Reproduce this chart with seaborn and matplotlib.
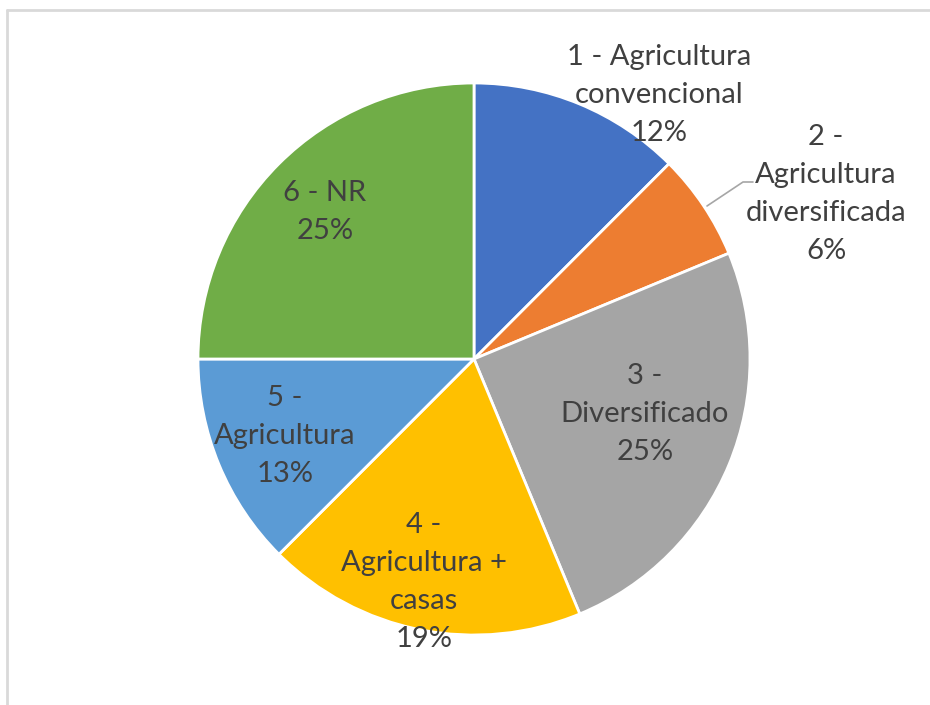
import seaborn as sns
import matplotlib.pyplot as plt

# data (shares in %)
categories = ["1 - Agricultura\nconvencional", "2 -\nAgricultura\ndiversificada", "3 -\nDiversificado",
              "4 -\nAgricultura +\ncasas", "5 -\nAgricultura", "6 - NR"]
values = [12.49, 6.25, 25.0, 18.75, 12.51, 25.0]
colors = ["#4472C4", "#ED7D31", "#A5A5A5", "#FFC000", "#5B9BD5", "#70AD47"]

# label centres in pixels (x, y from top)
label_pos = [(659, 95), (826, 194), (645, 414), (424, 582), (285, 436), (325, 212)]

sns.set_theme(style="white")
plt.rcParams['font.family'] = ['Lato', 'DejaVu Sans']

W, H = 930, 705
fig = plt.figure(figsize=(W / 100, H / 100), dpi=100)
ax = fig.add_axes([0, 0, 1, 1])
ax.set_xlim(0, W)
ax.set_ylim(0, H)
ax.set_aspect("equal")
ax.axis("off")

cx, cy, r = 474, H - 359, 276
ax.pie(values, colors=colors, startangle=90, counterclock=False,
       center=(cx, cy), radius=r,
       wedgeprops=dict(edgecolor="white", linewidth=2))
ax.set_xlim(0, W)
ax.set_ylim(0, H)

total = sum(values)
for name, v, (x, y) in zip(categories, values, label_pos):
    ax.text(x, H - y, f"{name}\n{round(100 * v / total)}%", ha="center", va="center",
            fontsize=21, color="#404040", linespacing=1.56)

# leader line for the small slice
ax.plot([707, 743, 753], [H - 206, H - 182, H - 182], color="#A6A6A6", lw=1.2)

# chart frame (left and top edges visible)
ax.plot([7, 7], [0, H - 10], color="#D9D9D9", lw=2)
ax.plot([7, W], [H - 10, H - 10], color="#D9D9D9", lw=2)

fig.savefig("out.png", dpi=100)
